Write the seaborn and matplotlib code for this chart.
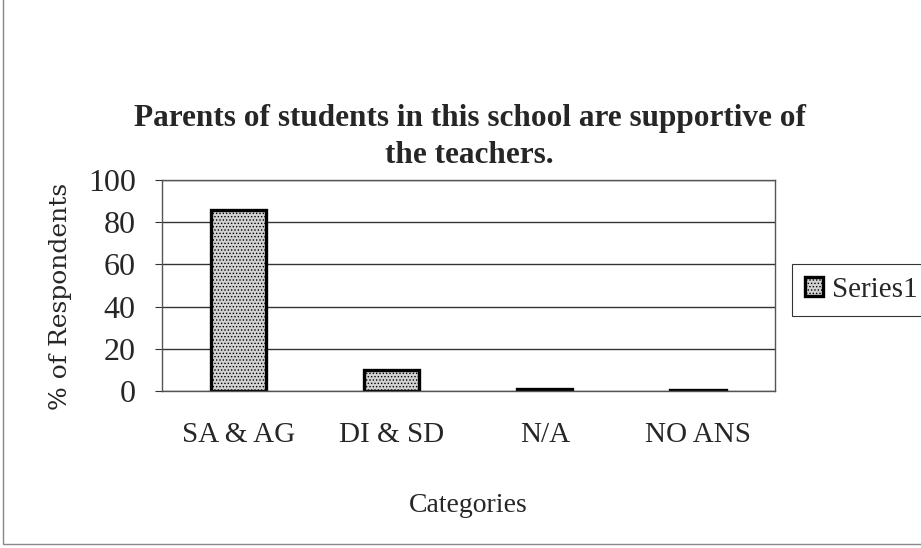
import pandas as pd
import matplotlib.pyplot as plt
import seaborn as sns

categorias = ['SA & AG', 'DI & SD', 'N/A', 'NO ANS']
valores = [86, 10, 1, 0.5]
serie = ['Series1'] * 4

dados = pd.DataFrame({'Categoria': categorias, 'Valor': valores, 'Serie': serie})

sns.set_style('white')
plt.rcParams['font.family'] = ['Liberation Serif', 'DejaVu Serif']
plt.rcParams['hatch.color'] = '#8a8a8a'
plt.rcParams['hatch.linewidth'] = 0.6

fig = plt.figure(figsize=(9.21, 5.48), dpi=100)
ax = fig.add_axes([0.176, 0.2865, 0.665, 0.385])

sns.barplot(data=dados, x='Categoria', y='Valor', hue='Serie', ax=ax,
            palette=['#d2d2d2'], width=0.36, edgecolor='black', linewidth=2.4,
            legend=True)
for barra in ax.patches:
    barra.set_hatch('.....')

ax.set_ylim(0, 100)
ax.set_yticks([0, 20, 40, 60, 80, 100])
ax.set_xlim(-0.5, 3.5)
ax.yaxis.grid(True, color='#333333', linewidth=1)
ax.set_axisbelow(True)
for s in ax.spines.values():
    s.set_color('#555555')
    s.set_linewidth(1)

ax.set_xticks([-0.5, 0.5, 1.5, 2.5, 3.5], minor=True)
ax.tick_params(axis='x', which='major', length=0, labelsize=21, pad=22)
ax.tick_params(axis='x', which='minor', length=7, color='#333333', direction='out')
ax.tick_params(axis='y', length=5, labelsize=23, left=True, color='#333333', pad=14)

ax.set_xlabel('Categories', fontsize=20, labelpad=33)
ax.set_ylabel('% of Respondents', fontsize=18, family='DejaVu Serif')
ax.yaxis.set_label_coords(-0.147, 0.45)

fig.text(0.51, 0.75, 'Parents of students in this school are supportive of\nthe teachers.',
         ha='center', va='center', fontsize=22.5, fontweight='bold', linespacing=1.35)

leg = ax.legend(loc='center left', bbox_to_anchor=(1.005, 0.48), frameon=True,
                fontsize=21, handlelength=0.6, handleheight=0.6,
                handletextpad=0.3, borderpad=0.45, fancybox=False, edgecolor='black')
leg.get_frame().set_linewidth(0.8)

fig.patches.append(plt.Rectangle((0.003, 0.008), 1.2, 1.2, transform=fig.transFigure,
                                 fill=False, edgecolor='#888888', linewidth=1))

plt.savefig('out.png', dpi=100)
